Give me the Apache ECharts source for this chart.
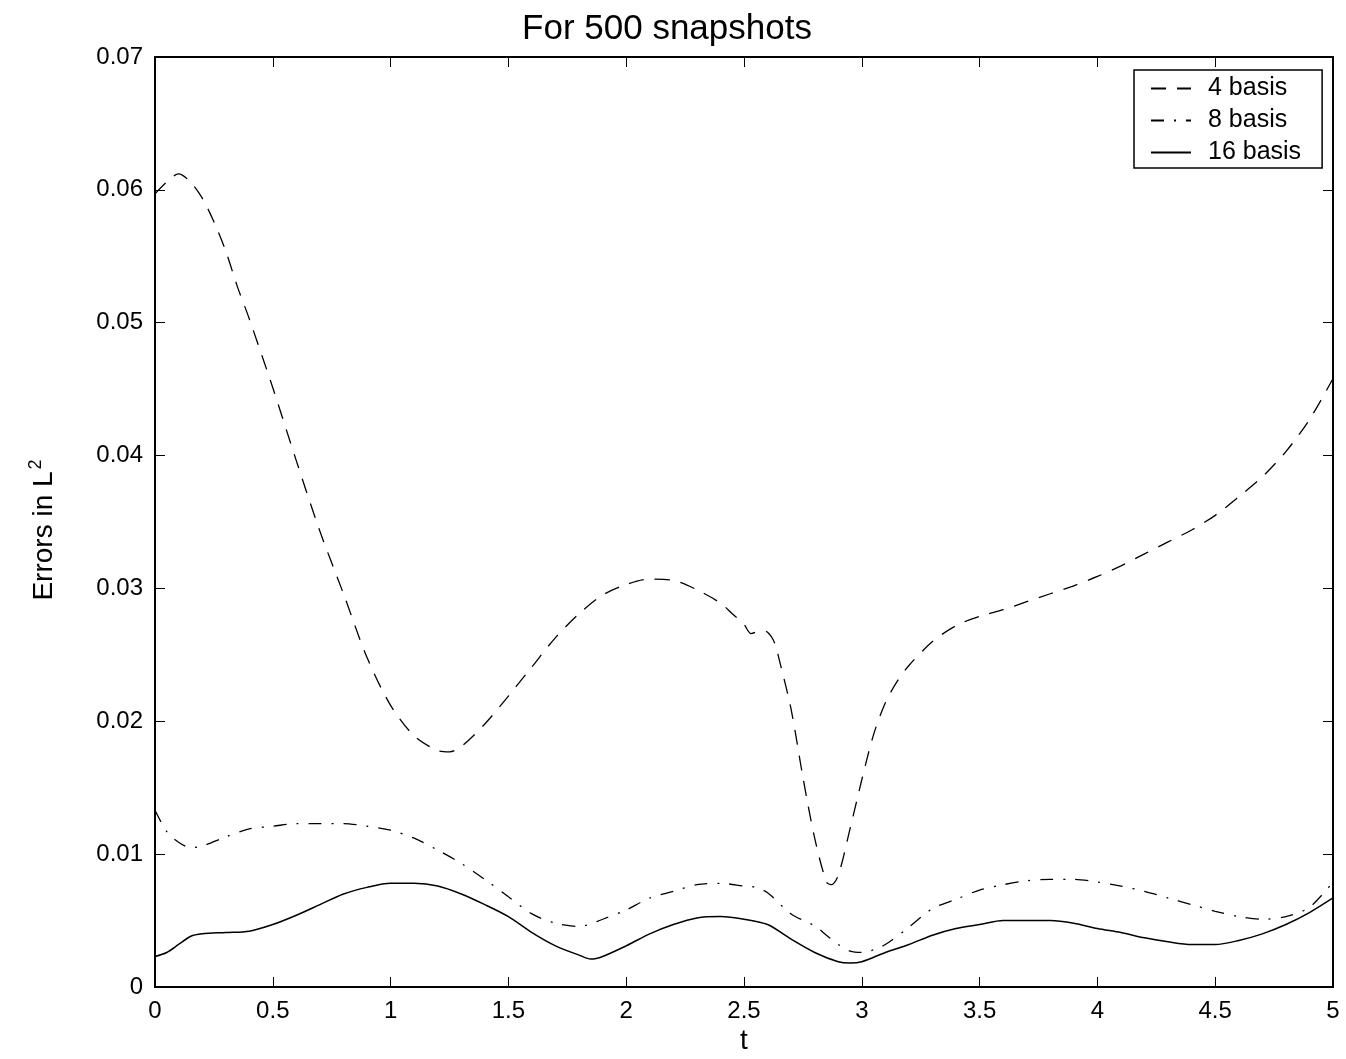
<!DOCTYPE html>
<html>
<head>
<meta charset="utf-8">
<script src="https://cdn.jsdelivr.net/npm/echarts@6/dist/echarts.min.js"></script>
<style>
  html, body { margin: 0; padding: 0; background: #fff; }
  #chart { width: 1346px; height: 1059px; }
</style>
</head>
<body>
<div id="chart"></div>
<script>
// L2 error histories (values in units of 1e-3), for 4, 8 and 16 POD basis functions
const t4 = [0, 0.05, 0.1, 0.15, 0.2, 0.25, 0.3, 0.35, 0.4, 0.5, 0.6, 0.7, 0.8, 0.9, 1.0, 1.1, 1.2, 1.25, 1.3, 1.4,
  1.5, 1.6, 1.7, 1.8, 1.9, 2.0, 2.1, 2.2, 2.3, 2.4, 2.45, 2.5, 2.53, 2.57, 2.6, 2.63, 2.65, 2.7, 2.75, 2.8,
  2.85, 2.87, 2.9, 2.95, 3.0, 3.05, 3.1, 3.15, 3.2, 3.3, 3.4, 3.5, 3.6, 3.7, 3.8, 3.9, 4.0, 4.1, 4.2, 4.3,
  4.4, 4.5, 4.6, 4.7, 4.8, 4.9, 5.0];
const err4 = [59.7, 60.6, 61.2, 60.6, 59.4, 57.6, 55.4, 52.7, 50.3, 45.1, 39.6, 34.3, 29.6, 24.8, 21.2, 18.9, 17.8, 17.7, 18.1, 19.8,
  21.9, 24.1, 26.3, 28.1, 29.5, 30.3, 30.7, 30.6, 29.9, 28.9, 28.1, 27.3, 26.6, 26.8, 26.7, 25.9, 24.6, 20.9, 15.8, 11.2,
  7.9, 7.7, 8.4, 11.9, 15.6, 19.0, 21.4, 23.0, 24.2, 26.0, 27.2, 27.9, 28.4, 29.0, 29.6, 30.2, 30.9, 31.7, 32.6, 33.5,
  34.4, 35.5, 36.9, 38.4, 40.3, 42.7, 45.8];

const t8 = [0, 0.05, 0.1, 0.15, 0.2, 0.3, 0.4, 0.5, 0.6, 0.7, 0.8, 0.9, 1.0, 1.1, 1.2, 1.3, 1.4, 1.5, 1.6, 1.7,
  1.8, 1.9, 2.0, 2.1, 2.2, 2.3, 2.4, 2.5, 2.55, 2.6, 2.7, 2.8, 2.85, 2.9, 2.95, 3.0, 3.05, 3.1, 3.2, 3.3,
  3.4, 3.5, 3.6, 3.7, 3.8, 3.9, 4.0, 4.1, 4.2, 4.3, 4.4, 4.5, 4.6, 4.7, 4.8, 4.9, 5.0];
const err8 = [13.3, 11.7, 10.9, 10.5, 10.6, 11.3, 11.9, 12.1, 12.3, 12.3, 12.3, 12.1, 11.8, 11.2, 10.3, 9.3, 8.1, 6.8, 5.5, 4.8,
  4.55, 5.1, 5.8, 6.7, 7.2, 7.7, 7.8, 7.6, 7.5, 7.1, 5.5, 4.6, 3.9, 3.2, 2.7, 2.6, 2.8, 3.2, 4.5, 5.9,
  6.6, 7.3, 7.7, 8.0, 8.1, 8.1, 7.9, 7.6, 7.2, 6.7, 6.2, 5.7, 5.3, 5.1, 5.3, 6.0, 7.9];

const t16 = [0, 0.05, 0.1, 0.15, 0.2, 0.3, 0.4, 0.5, 0.6, 0.7, 0.8, 0.9, 1.0, 1.1, 1.2, 1.3, 1.4, 1.5, 1.6, 1.7,
  1.8, 1.85, 1.9, 2.0, 2.1, 2.2, 2.3, 2.4, 2.5, 2.6, 2.7, 2.8, 2.9, 2.95, 3.0, 3.1, 3.2, 3.3, 3.4, 3.5,
  3.6, 3.7, 3.8, 3.9, 4.0, 4.1, 4.2, 4.3, 4.4, 4.5, 4.6, 4.7, 4.8, 4.9, 5.0];
const err16 = [2.3, 2.6, 3.2, 3.8, 4.0, 4.1, 4.2, 4.7, 5.4, 6.2, 7.0, 7.5, 7.8, 7.8, 7.6, 7.0, 6.2, 5.3, 4.1, 3.1,
  2.4, 2.1, 2.3, 3.1, 4.0, 4.7, 5.2, 5.3, 5.1, 4.7, 3.6, 2.6, 1.9, 1.8, 1.9, 2.6, 3.2, 3.9, 4.4, 4.7,
  5.0, 5.0, 5.0, 4.8, 4.4, 4.1, 3.7, 3.4, 3.2, 3.2, 3.5, 4.0, 4.7, 5.6, 6.7];

const seriesNames = ['4 basis', '8 basis', '16 basis'];
const yTicks = ['0', '0.01', '0.02', '0.03', '0.04', '0.05', '0.06', '0.07'];

const FONT = '"Liberation Sans", Arial, Helvetica, sans-serif';
const pairs = (ts, es) => ts.map((t, i) => [t, es[i] / 1000]);

const chart = echarts.init(document.getElementById('chart'), null, { renderer: 'canvas' });

const frameLine = { show: true, onZero: false, lineStyle: { color: '#000', width: 2 } };
const inTick = { show: true, inside: true, length: 10, lineStyle: { color: '#000', width: 1 } };

const lineCommon = {
  type: 'line',
  showSymbol: false,
  symbol: 'none',
  smooth: 0.3,
  animation: false,
  xAxisIndex: 0,
  yAxisIndex: 0
};

chart.setOption({
  backgroundColor: '#fff',
  animation: false,
  title: {
    text: 'For 500 snapshots',
    left: 662,
    top: 7,
    textAlign: 'center',
    textStyle: { fontFamily: FONT, fontSize: 35, fontWeight: 'normal', color: '#000' }
  },
  grid: { left: 155, right: 13, top: 57, bottom: 72, containLabel: false },
  xAxis: [
    {
      type: 'value', min: 0, max: 5, interval: 0.5, position: 'bottom',
      axisLine: frameLine, axisTick: inTick, splitLine: { show: false },
      axisLabel: { show: true, margin: 12, color: '#000', fontFamily: FONT, fontSize: 24 }
    },
    {
      type: 'value', min: 0, max: 5, interval: 0.5, position: 'top',
      axisLine: frameLine, axisTick: inTick, splitLine: { show: false },
      axisLabel: { show: false }
    }
  ],
  yAxis: [
    {
      type: 'value', min: 0, max: 0.07, interval: 0.01, position: 'left',
      axisLine: frameLine, axisTick: inTick, splitLine: { show: false },
      axisLabel: {
        show: true, margin: 12, color: '#000', fontFamily: FONT, fontSize: 24,
        formatter: (v) => yTicks[Math.round(v * 100)]
      }
    },
    {
      type: 'value', min: 0, max: 0.07, interval: 0.01, position: 'right',
      axisLine: frameLine, axisTick: inTick, splitLine: { show: false },
      axisLabel: { show: false }
    }
  ],
  legend: {
    orient: 'vertical',
    left: 1134,
    top: 70,
    padding: [6, 21, 3, 16],
    itemWidth: 40,
    itemHeight: 24,
    itemGap: 7,
    backgroundColor: '#fff',
    borderColor: '#000',
    borderWidth: 1.5,
    borderRadius: 0,
    data: seriesNames,
    itemStyle: { color: 'transparent', borderColor: 'transparent', borderWidth: 0 },
    textStyle: { fontFamily: FONT, fontSize: 25, color: '#000', padding: [0, 0, 0, 12] }
  },
  graphic: [
    {
      type: 'text',
      x: 44,
      y: 530,
      rotation: Math.PI / 2,
      style: {
        text: 'Errors in L{sup|2}',
        fontFamily: FONT,
        fontSize: 28,
        fill: '#000',
        align: 'center',
        verticalAlign: 'middle',
        rich: {
          sup: { fontFamily: FONT, fontSize: 18, fill: '#000', padding: [0, 0, 16, 2] }
        }
      }
    },
    {
      type: 'text',
      x: 744,
      y: 1041,
      style: {
        text: 't',
        fontFamily: FONT,
        fontSize: 28,
        fill: '#000',
        align: 'center',
        verticalAlign: 'middle'
      }
    }
  ],
  series: [
    Object.assign({}, lineCommon, {
      name: seriesNames[0],
      data: pairs(t4, err4),
      lineStyle: { color: '#000', width: 1.3, type: [15, 11] },
      itemStyle: { color: '#000' }
    }),
    Object.assign({}, lineCommon, {
      name: seriesNames[1],
      data: pairs(t8, err8),
      lineStyle: { color: '#000', width: 1.3, type: [13, 10, 2, 10] },
      itemStyle: { color: '#000' }
    }),
    Object.assign({}, lineCommon, {
      name: seriesNames[2],
      data: pairs(t16, err16),
      lineStyle: { color: '#000', width: 1.5, type: 'solid' },
      itemStyle: { color: '#000' }
    })
  ]
});
</script>
</body>
</html>
